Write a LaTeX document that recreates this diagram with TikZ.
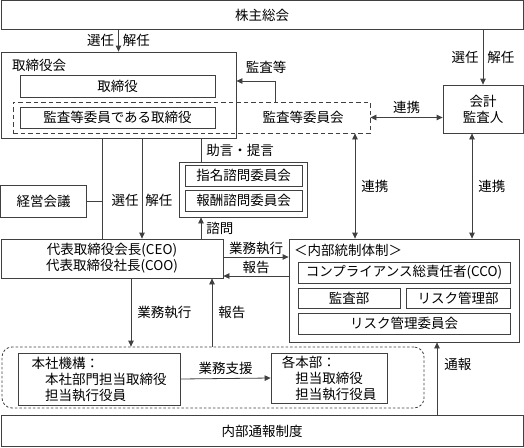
\documentclass[tikz,border=0pt]{standalone}
\usepackage{fontspec}
\setmainfont{Noto Sans CJK JP}
\usetikzlibrary{arrows.meta,positioning}

\definecolor{ln}{gray}{0.25}
\newcommand\fsz{\fontsize{13.5}{16}\selectfont}

\tikzset{
  box/.style={draw=ln, line width=0.8pt, inner sep=0pt, font=\fsz},
  dbox/.style={box, dash pattern=on 4.5pt off 3pt},
  rbox/.style={box, dash pattern=on 2.5pt off 2pt, rounded corners=10pt},
  lbl/.style={font=\fsz, inner sep=2pt},
  con/.style={draw=ln, line width=0.8pt},
  arr/.style={con, -{Triangle[length=6pt,width=5.5pt]}},
  dbl/.style={con, {Triangle[length=6pt,width=5.5pt]}-{Triangle[length=6pt,width=5.5pt]}},
}

\begin{document}
\begin{tikzpicture}[x=1pt,y=-1pt]
  \useasboundingbox (0,0) rectangle (524,447);

  % columns of the vertical connectors
  \coordinate (x102) at (102,0);
  \coordinate (x131) at (131,0);
  \coordinate (x142) at (142,0);
  \coordinate (x201) at (201,0);
  \coordinate (x212) at (212,0);
  \coordinate (x355) at (355,0);
  \coordinate (x437) at (437,0);
  \coordinate (x472) at (472,0);
  \coordinate (y257) at (0,257);
  \coordinate (y276) at (0,276);
  \coordinate (kansa) at (275,81);

  % top
  \node[box, minimum width=522pt, minimum height=29pt] (kabu) at (262,15) {株主総会};

  % board
  \node[box, minimum width=235pt, minimum height=86pt] (torikai) at (118.5,95) {};
  \node[lbl, anchor=west] (torikaitxt) at (10,65) {取締役会};
  \node[box, minimum width=195pt, minimum height=22pt] (tori) at (117.5,86) {取締役};
  \node[dbox, minimum width=357pt, minimum height=31pt] (iinkai) at (191.5,117.5) {};
  \node[box, minimum width=195pt, minimum height=21pt] (kiin) at (117.5,117.5) {監査等委員である取締役};
  \node[lbl] (iinkaitxt) at (303,117) {監査等委員会};
  \node[box, minimum width=80pt, minimum height=48pt, align=center] (kaikei) at (483,109) {会計\\監査人};

  % middle
  \node[box, minimum width=86pt, minimum height=32pt] (keiei) at (43.5,201) {経営会議};
  \node[box, minimum width=128pt, minimum height=55pt] (shimon) at (243,189.5) {};
  \node[box, minimum width=117pt, minimum height=21pt] (shimei) at (243.5,175.5) {指名諮問委員会};
  \node[box, minimum width=117pt, minimum height=21pt] (hoshu) at (243.5,200.5) {報酬諮問委員会};
  \node[box, minimum width=222pt, minimum height=39pt, align=center] (daihyo) at (112,258.5)
    {代表取締役会長(CEO)\\代表取締役社長(COO)};

  % internal control
  \node[box, minimum width=230pt, minimum height=103pt] (naibu) at (404,290.5) {};
  \node[lbl, anchor=west] (naibutxt) at (292,250) {＜内部統制体制＞};
  \node[box, minimum width=212pt, minimum height=21pt] (cco) at (404,272.5) {コンプライアンス総責任者(CCO)};
  \node[box, minimum width=102pt, minimum height=20pt] (kansabu) at (349,298) {監査部};
  \node[box, minimum width=104pt, minimum height=20pt] (riskbu) at (458,298) {リスク管理部};
  \node[box, minimum width=212pt, minimum height=21pt] (riskiin) at (404,323.5) {リスク管理委員会};

  % bottom
  \node[rbox, minimum width=422pt, minimum height=61pt] (gyomu) at (213,377.5) {};
  \node[box, minimum width=162pt, minimum height=52pt, align=left] (honsha) at (99,379)
    {本社機構：\\\hspace{1em}本社部門担当取締役\\\hspace{1em}担当執行役員};
  \node[box, minimum width=116pt, minimum height=50pt, align=left] (kakuhon) at (329,378)
    {各本部：\\\hspace{1em}担当取締役\\\hspace{1em}担当執行役員};
  \node[box, minimum width=522pt, minimum height=31pt] (tsuho) at (262,431) {内部通報制度};

  % connectors
  \draw[arr] (kabu.south -| torikai.north) -- (torikai.north)
    node[lbl, midway, left=2pt] {選任} node[lbl, midway, right=2pt] {解任};
  \draw[arr] (kabu.south -| kaikei.north) -- (kaikei.north)
    node[lbl, midway, left=2pt] {選任} node[lbl, midway, right=2pt] {解任};
  \draw[arr] (iinkai.north -| kansa) |- (torikai.east |- kansa);
  \node[lbl] (kansatxt) at (266,67) {監査等};
  \draw[dbl] (iinkai.east) -- (iinkai.east -| kaikei.west) node[lbl, midway, above=1pt] {連携};
  \draw[dbl] (iinkai.south -| x355) -- (naibu.north -| x355) node[lbl, midway, right=4pt] {連携};
  \draw[dbl] (kaikei.south -| x472) -- (naibu.north -| x472) node[lbl, midway, right=4pt] {連携};

  \draw[con] (torikai.south -| x102) -- (daihyo.north -| x102);
  \draw[con] (keiei.east) -- (keiei.east -| x102);
  \draw[arr] (torikai.south -| x142) -- (daihyo.north -| x142)
    node[lbl, pos=0.62, left=1pt] {選任} node[lbl, pos=0.62, right=1pt] {解任};
  \draw[con] (torikai.south -| x201) -- (shimon.north -| x201) node[lbl, midway, right=3pt] {助言・提言};
  \draw[arr] (daihyo.north -| x201) -- (shimon.south -| x201) node[lbl, midway, right=3pt] {諮問};

  \draw[arr] (daihyo.east |- y257) -- (naibu.west |- y257) node[lbl, midway, above=0pt] {業務執行};
  \draw[arr] (naibu.west |- y276) -- (daihyo.east |- y276) node[lbl, midway, above=0pt] {報告};

  \draw[arr] (daihyo.south -| x131) -- (gyomu.north -| x131) node[lbl, midway, right=4pt] {業務執行};
  \draw[arr] (gyomu.north -| x212) -- (daihyo.south -| x212) node[lbl, midway, right=4pt] {報告};
  \draw[arr] (honsha.east) -- (kakuhon.west) node[lbl, midway, above=1pt] {業務支援};
  \draw[arr] (tsuho.north -| x437) -- (naibu.south -| x437) node[lbl, pos=0.7, right=5pt] {通報};
\end{tikzpicture}
\end{document}
